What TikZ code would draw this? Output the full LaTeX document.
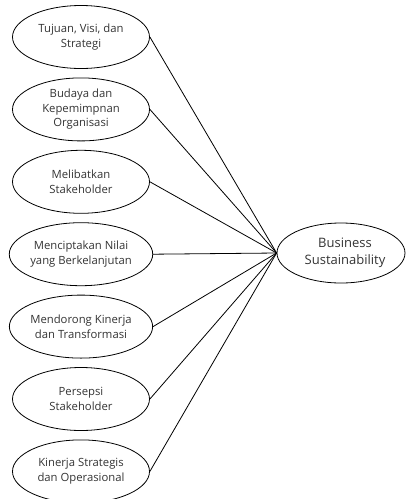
\documentclass[tikz,border=0pt]{standalone}
\usepackage{fontspec}
\setmainfont{Open Sans}
\usetikzlibrary{shapes.geometric}
\definecolor{txt}{HTML}{333333}
\tikzset{
  factor/.style={ellipse, draw=black, line width=0.8pt, minimum width=137pt, minimum height=63pt, inner sep=0pt, align=center, text=txt, font=\fontsize{11.3}{14.5}\selectfont},
  target/.style={ellipse, draw=black, line width=0.8pt, minimum width=128pt, minimum height=60pt, inner sep=0pt, align=center, text=txt, font=\fontsize{13}{16.5}\selectfont},
  link/.style={draw=black, line width=0.8pt}
}
\begin{document}
\begin{tikzpicture}[x=1pt,y=-1pt]
\useasboundingbox (0,0) rectangle (406,499);
\node[factor] (f1) at (81,37) {Tujuan, Visi, dan\\Strategi};
\node[factor] (f2) at (81,109.4) {Budaya dan\\Kepemimpnan\\Organisasi};
\node[factor] (f3) at (81,181.8) {Melibatkan\\Stakeholder};
\node[factor] (f4) at (81,254.2) {Menciptakan Nilai\\yang Berkelanjutan};
\node[factor] (f5) at (81,326.6) {Mendorong Kinerja\\dan Transformasi};
\node[factor] (f6) at (81,399) {Persepsi\\Stakeholder};
\node[factor] (f7) at (81,471.4) {Kinerja Strategis\\dan Operasional};
\node[target] (bs) at (341,253) {\hspace*{8pt}Business\\\hspace*{8pt}Sustainability};
\foreach \i in {1,...,7} {
  \draw[link] (f\i.east) -- (bs.west);
}
\end{tikzpicture}
\end{document}
